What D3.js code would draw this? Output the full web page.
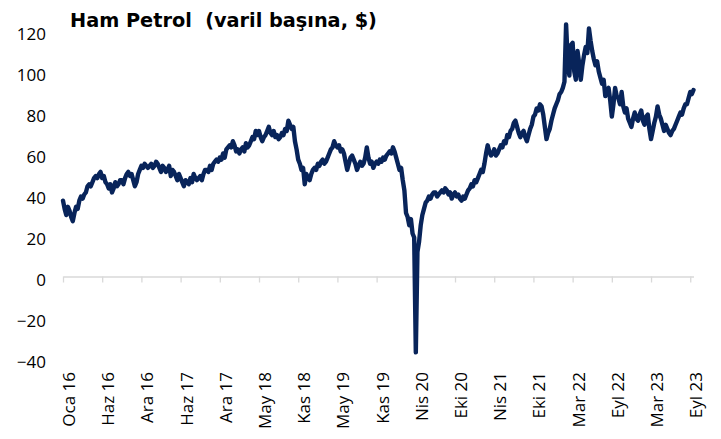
<!DOCTYPE html>
<html>
<head>
<meta charset="utf-8">
<script src="https://cdn.jsdelivr.net/npm/d3@7"></script>
<style>
  body { margin: 0; background: #fff; }
  svg { display: block; font-family: "Open Sans", sans-serif; }
</style>
</head>
<body>
<div class="chart"></div>
<script>
// tick labels on the category axis, one every 24 points
var tickLabels = ["Oca 16", "Haz 16", "Ara 16", "Haz 17", "Ara 17", "May 18", "Kas 18", "May 19",
                  "Kas 19", "Nis 20", "Eki 20", "Nis 21", "Eki 21", "Mar 22", "Eyl 22", "Mar 23", "Eyl 23"];
var pointsPerTick = 24;
var yTicks = [-40, -20, 0, 20, 40, 60, 80, 100, 120];

// crude oil, $ per barrel (about one point a week)
var oilPrice = [
  37, 33, 30, 34, 32, 29, 27, 31, 34, 33, 37, 39, 38, 40, 41, 44, 45, 44, 46, 48, 49, 48, 50, 51,
  48, 49, 46, 45, 43, 45, 41, 43, 46, 44, 45, 47, 47, 45, 48, 50, 51, 49, 50, 47, 44, 46, 50, 52,
  54, 53, 55, 54, 53, 54, 55, 53, 54, 56, 55, 53, 51, 54, 53, 51, 52, 54, 49, 52, 51, 49, 47, 50,
  48, 46, 44, 47, 46, 45, 48, 46, 50, 48, 47, 48, 49, 47, 50, 52, 52, 51, 54, 52, 55, 56, 57, 56,
  58, 57, 60, 58, 62, 63, 64, 63, 66, 64, 61, 62, 60, 62, 63, 61, 65, 63, 64, 66, 68, 67, 71, 69,
  71, 68, 66, 68, 69, 71, 73, 70, 69, 71, 68, 69, 67, 68, 70, 69, 72, 71, 76, 74, 72, 73, 66, 62,
  57, 55, 52, 53, 45, 50, 48, 47, 50, 52, 53, 52, 55, 54, 56, 57, 55, 56, 58, 60, 62, 63, 66, 64,
  63, 64, 61, 62, 60, 56, 52, 55, 58, 59, 57, 55, 52, 54, 56, 54, 55, 58, 63, 58, 55, 56, 53, 55,
  56, 55, 57, 56, 58, 57, 59, 60, 61, 60, 63, 61, 58, 55, 52, 53, 47, 42, 31, 29, 25, 28, 21, 19,
  -37, 12, 17, 25, 30, 33, 36, 37, 39, 38, 40, 41, 41, 39, 40, 41, 42, 41, 43, 42, 40, 41, 38, 40,
  41, 39, 40, 38, 37, 39, 38, 40, 42, 43, 45, 44, 47, 46, 48, 50, 52, 51, 55, 60, 64, 61, 59, 60,
  62, 59, 60, 62, 64, 63, 66, 65, 69, 68, 71, 72, 75, 76, 73, 70, 68, 70, 71, 68, 66, 69, 72, 74,
  78, 79, 82, 81, 84, 83, 79, 73, 67, 70, 72, 76, 79, 82, 84, 86, 89, 90, 92, 95, 123, 105, 98, 113,
  114, 100, 96, 110, 104, 96, 103, 108, 112, 109, 121, 115, 110, 106, 103, 105, 100, 97, 94, 96, 88, 91, 92, 86,
  78, 84, 92, 88, 87, 84, 90, 83, 80, 82, 77, 75, 73, 77, 80, 77, 76, 79, 81, 76, 74, 78, 79, 72,
  67, 71, 75, 78, 83, 79, 77, 74, 71, 74, 72, 70, 69, 71, 72, 74, 76, 78, 80, 79, 82, 84, 84, 87,
  90, 89, 91
];

var width = 721, height = 439;

var svg = d3.select(".chart").append("svg")
    .attr("width", width)
    .attr("height", height);

// scales
var x = d3.scaleLinear().domain([0, oilPrice.length - 1]).range([63, 693.5]);
var y = d3.scaleLinear().domain([-40, 120]).range([358.5, 30.5]);

// y axis, labels only
var yAxis = d3.axisLeft(y).tickValues(yTicks).tickSize(0).tickPadding(0);
var yg = svg.append("g")
    .attr("transform", "translate(46,0)")
    .call(yAxis);
yg.select(".domain").remove();
yg.selectAll("text")
    .attr("dy", "0.5em")
    .style("font-size", "17px")
    .style("font-family", "Open Sans, sans-serif")
    .attr("fill", "#000");

// x axis sits on the zero line
var xAxis = d3.axisBottom(x)
    .tickValues(tickLabels.map(function(d, i) { return i * pointsPerTick; }))
    .tickFormat(function(d, i) { return tickLabels[i]; })
    .tickSizeInner(6)
    .tickSizeOuter(0);
var xg = svg.append("g")
    .attr("transform", "translate(0," + y(0) + ")")
    .call(xAxis);
xg.select(".domain").attr("stroke", "#d9d9d9").attr("stroke-width", 1.3);
xg.selectAll(".tick line").attr("stroke", "#d9d9d9").attr("stroke-width", 1.3);
xg.selectAll(".tick text")
    .attr("transform", "translate(5.5," + (372 - y(0)) + ") rotate(-90)")
    .attr("x", 0)
    .attr("y", 0)
    .attr("dy", "0.35em")
    .style("text-anchor", "end")
    .style("font-size", "17px")
    .style("font-family", "Open Sans, sans-serif")
    .attr("fill", "#000");

// price line
var line = d3.line()
    .x(function(d, i) { return x(i); })
    .y(function(d) { return y(d); });

svg.append("path")
    .datum(oilPrice)
    .attr("d", line)
    .attr("fill", "none")
    .attr("stroke", "#08245a")
    .attr("stroke-width", 4.4)
    .attr("stroke-linejoin", "round")
    .attr("stroke-linecap", "round");

// heading
svg.append("text")
    .attr("x", 70)
    .attr("y", 27)
    .style("font-size", "19.3px")
    .style("font-family", "DejaVu Sans, sans-serif")
    .style("font-weight", "bold")
    .style("white-space", "pre")
    .text("Ham Petrol  (varil başına, $)");
</script>
</body>
</html>
